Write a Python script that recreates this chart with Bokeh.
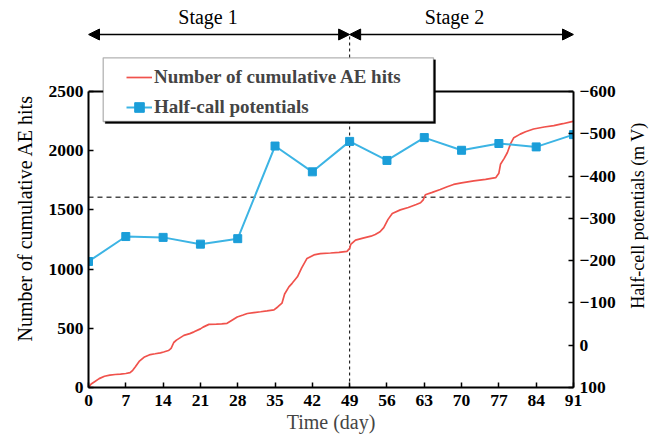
import math
from bokeh.plotting import figure
from bokeh.layouts import row
from bokeh.models import (Range1d, LinearAxis, FixedTicker, Arrow, NormalHead,
                          Legend, LegendItem, BoxAnnotation)
from bokeh.core.properties import value
from bokeh.embed import file_html
from bokeh.resources import INLINE

# ---------------- data ----------------
ae_days = [0, 0.5, 1, 2, 3, 4, 5, 6, 7, 7.8, 8.3, 8.8, 9.5, 10.4, 11.6, 12.5, 13.5,
           14.1, 15, 15.5, 16, 16.5, 17.9, 19, 19.8, 21, 21.5, 22.6, 24, 25, 26, 27,
           27.9, 29, 29.8, 31, 32.3, 33.5, 34.8, 35.5, 36.3, 36.8, 37.6, 38.2, 39.2,
           40, 41, 42.3, 43.5, 45.4, 47, 48.5, 49, 49.2, 50.1, 51.5, 53, 53.8, 54.7,
           55.4, 56.2, 57, 58.5, 60, 61.5, 62.3, 62.8, 63.2, 64.5, 66, 67.3, 68.5, 70,
           72.3, 74.5, 76.4, 77, 77.3, 78, 78.6, 79.2, 79.8, 81, 82, 83.5, 85.5, 87.3,
           89, 90.7, 91]
ae_hits = [0, 30, 45, 75, 95, 105, 110, 113, 118, 125, 145, 175, 220, 255, 278, 285, 293,
           300, 312, 330, 380, 400, 440, 455, 470, 495, 510, 533, 535, 538, 542, 570,
           595, 612, 625, 633, 640, 647, 655, 680, 712, 790, 850, 880, 935,
           1010, 1090, 1120, 1130, 1136, 1142, 1150, 1175, 1208, 1245, 1262, 1278, 1292, 1315,
           1350, 1420, 1470, 1500, 1520, 1545, 1560, 1585, 1628, 1648, 1672, 1695, 1715, 1728,
           1745, 1758, 1772, 1810, 1885, 1935, 1985, 2060, 2110, 2140, 2160, 2183, 2200, 2212,
           2228, 2245, 2250]

hcp_days = [0, 7, 14, 21, 28, 35, 42, 49, 56, 63, 70, 77, 84, 91]
hcp_mv = [-198, -257, -255, -239, -252, -471, -410, -482, -437, -491, -461, -477, -469, -498]

x_ticks = [0, 7, 14, 21, 28, 35, 42, 49, 56, 63, 70, 77, 84, 91]
left_ticks = [0, 500, 1000, 1500, 2000, 2500]
right_ticks = [-600, -500, -400, -300, -200, -100, 0, 100]
threshold_mv = -350
stage_split = 49
stage_labels = ["Stage 1", "Stage 2"]
legend_labels = ["Number of cumulative AE hits", "Half-call potentials"]
x_title = "Time (day)"
left_title = "Number of cumulative AE hits"
right_title = "Half-cell potentials (m V)"

# ---------------- layout (page pixels) ----------------
PAGE_W, PAGE_H = 661, 439
LEFT_W, RIGHT_W = 40, 39
MAIN_W = PAGE_W - LEFT_W - RIGHT_W
FR_L, FR_R, FR_T2500, FR_B = 88, 573, 91, 387     # frame edges on the page
FONT = "Liberation Serif"

X0, X1 = x_ticks[0], x_ticks[-1]
PX_PER_DAY = (FR_R - FR_L) / (X1 - X0)
LEFT_MAX = left_ticks[-1]
PX_PER_HIT = (FR_B - FR_T2500) / LEFT_MAX
Y_TOP = FR_B / PX_PER_HIT
MV_TOP = right_ticks[-1] - (right_ticks[-1] - right_ticks[0]) * Y_TOP / LEFT_MAX

def px_x(px):
    return X0 + (px - FR_L) / PX_PER_DAY

def px_y(py):
    return (FR_B - py) / PX_PER_HIT

p = figure(width=MAIN_W, height=PAGE_H, output_backend="svg", toolbar_location=None,
           x_range=Range1d(X0, X1), y_range=Range1d(0, Y_TOP),
           min_border_left=FR_L - LEFT_W, min_border_right=LEFT_W + MAIN_W - FR_R,
           min_border_top=0, min_border_bottom=PAGE_H - FR_B)
p.xgrid.visible = False
p.ygrid.visible = False
p.outline_line_color = None
p.extra_y_ranges = {"mv": Range1d(start=right_ticks[-1], end=MV_TOP)}

def style_axis(ax):
    ax.axis_line_width = 2
    ax.axis_line_color = "black"
    ax.major_tick_line_width = 1.5
    ax.major_tick_in = 5
    ax.major_tick_out = 0
    ax.minor_tick_line_color = None
    ax.major_label_text_font = FONT
    ax.major_label_text_font_style = "bold"
    ax.major_label_text_font_size = "17.5px"
    ax.major_label_text_color = "black"

xa = p.xaxis[0]
xa.ticker = FixedTicker(ticks=x_ticks)
style_axis(xa)
xa.major_label_standoff = 7
xa.axis_label = x_title
xa.axis_label_text_font = FONT
xa.axis_label_text_font_style = "normal"
xa.axis_label_text_font_size = "20px"
xa.axis_label_standoff = 2

ya = p.yaxis[0]
ya.ticker = FixedTicker(ticks=left_ticks)
ya.bounds = (left_ticks[0], left_ticks[-1])
style_axis(ya)
ya.major_label_standoff = 5

ra = LinearAxis(y_range_name="mv", ticker=FixedTicker(ticks=right_ticks),
                bounds=(right_ticks[0], right_ticks[-1]))
style_axis(ra)
ra.major_label_standoff = 6
p.add_layout(ra, "right")

# top frame edge
p.line([X0, X1], [LEFT_MAX, LEFT_MAX], line_color="black", line_width=2)

# threshold dashed line
p.line([X0, X1], [threshold_mv, threshold_mv], y_range_name="mv",
       line_color="#4a4a4a", line_width=1.5, line_dash="5 4")

ARROW_Y = px_y(34)
# stage split dashed line
p.line([stage_split, stage_split], [0, ARROW_Y], line_color="black", line_width=1,
       line_dash="3 3")

red = p.line(ae_days, ae_hits, line_color="#F0524C", line_width=1.7)
blue_l = p.line(hcp_days, hcp_mv, y_range_name="mv", line_color="#3CB4E4", line_width=2)
blue_m = p.scatter(hcp_days, hcp_mv, y_range_name="mv", marker="square", size=8,
                   fill_color="#1B9ED9", line_color="#1B9ED9")

# stage arrows
for xs, xe in [(X0, stage_split), (stage_split, X1)]:
    p.add_layout(Arrow(x_start=xs, y_start=ARROW_Y, x_end=xe, y_end=ARROW_Y,
                       line_width=1.3, line_color="black",
                       start=NormalHead(size=11, fill_color="black", line_color="black"),
                       end=NormalHead(size=11, fill_color="black", line_color="black")))
p.text(x=[px_x(207.5), px_x(454)], y=[px_y(16), px_y(16)], text=stage_labels,
       text_align="center", text_baseline="middle", text_font=value(FONT),
       text_font_size="20px", text_color="black")

# legend frame with drop shadow
BX_L, BX_R, BX_T, BX_B = 102.7, 433, 57.3, 121
p.add_layout(BoxAnnotation(left=px_x(BX_L + 2), right=px_x(BX_R + 2), top=px_y(BX_T + 2),
                           bottom=px_y(BX_B + 2), fill_color="black", fill_alpha=1,
                           line_color="black", line_width=1))
p.add_layout(BoxAnnotation(left=px_x(BX_L), right=px_x(BX_R), top=px_y(BX_T),
                           bottom=px_y(BX_B), fill_color="white", fill_alpha=1,
                           line_color="black", line_width=1.3))

legend = Legend(items=[LegendItem(label=legend_labels[0], renderers=[red]),
                       LegendItem(label=legend_labels[1], renderers=[blue_l, blue_m])],
                location=(130 - 4 - FR_L, FR_B - 119))
legend.label_text_font = FONT
legend.label_text_font_style = "bold"
legend.label_text_font_size = "19px"
legend.border_line_color = None
legend.background_fill_alpha = 0
legend.padding = 4
legend.spacing = 6
legend.glyph_width = 26
legend.glyph_height = 24
legend.label_height = 24
legend.label_standoff = 2
legend.margin = 0
p.add_layout(legend)

# side title panels
def side_panel(width, cx, cy, text, size):
    f = figure(width=width, height=PAGE_H, output_backend="svg", toolbar_location=None,
               x_range=Range1d(0, width), y_range=Range1d(0, PAGE_H),
               x_axis_type=None, y_axis_type=None, min_border=0)
    f.xgrid.visible = False
    f.ygrid.visible = False
    f.outline_line_color = None
    f.text(x=[cx], y=[PAGE_H - cy], text=[text], angle=math.pi / 2, text_align="center",
           text_baseline="middle", text_font=value(FONT), text_font_size=size,
           text_color="black")
    return f

left_fig = side_panel(LEFT_W, 24, 247, left_title, "20px")
right_fig = side_panel(RIGHT_W, 637 - LEFT_W - MAIN_W, 244, right_title, "18px")

layout = row(left_fig, p, right_fig, spacing=0)
open("out.html", "w").write(file_html(layout, INLINE))
